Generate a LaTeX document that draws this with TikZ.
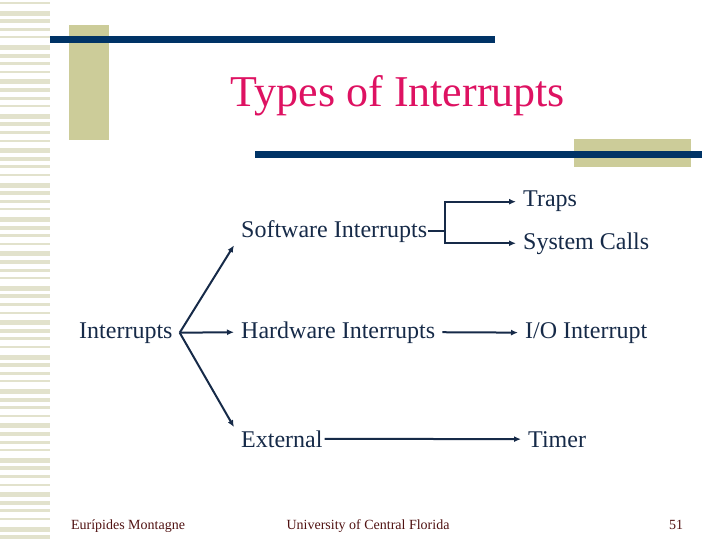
\documentclass[tikz,border=0pt]{standalone}
\usepackage{fontspec}
\setmainfont{Liberation Serif}
\usetikzlibrary{arrows.meta,positioning}
\definecolor{navy}{RGB}{0,51,102}
\definecolor{olive}{RGB}{204,204,153}
\definecolor{stripe}{RGB}{226,226,204}
\definecolor{ink}{RGB}{22,42,72}
\definecolor{rose}{RGB}{222,18,98}
\definecolor{maroon}{RGB}{80,18,18}

\begin{document}
\begin{tikzpicture}[x=1pt,y=-1pt,lbl/.style={anchor=base west,inner xsep=7pt,inner ysep=3pt,text=ink,font=\fontsize{24}{24}\selectfont},foot/.style={anchor=base,text=maroon,font=\fontsize{14}{14}\selectfont},line/.style={draw=ink,line width=2pt},arrow/.style={line,-{Latex[length=7pt,width=6pt]}}]
\useasboundingbox (0,0) rectangle (720,540);
% slide frame
\foreach \i in {0,...,62}{\pgfmathsetmacro\h{2+mod(\i*7,4)}
  \fill[stripe] (0,\i*8.6+2) rectangle (50,\i*8.6+2+\h);}
\fill[olive] (69,25) rectangle (109,140);
\fill[olive] (574,139) rectangle (691,167);
\fill[navy] (50,36) rectangle (495,43);
\fill[navy] (255,151) rectangle (702,158);
\node[anchor=base,text=rose,font=\fontsize{44}{44}\selectfont] (title) at (398,107) {Types of Interrupts};
% tree
\node[lbl] (int) at (72,338) {Interrupts};
\node[lbl] (sw) at (234,237) {Software Interrupts};
\node[lbl] (hw) at (234,338) {Hardware Interrupts};
\node[lbl] (ext) at (234,447) {External};
\node[lbl] (traps) at (516,207) {Traps};
\node[lbl] (sc) at (516,249) {System Calls};
\node[lbl] (io) at (518,338) {I/O Interrupt};
\node[lbl] (timer) at (521,447) {Timer};
\draw[arrow] (int.east) -- (sw.south west); \draw[arrow] (int.east) -- (hw.west); \draw[arrow] (int.east) -- (ext.north west);
\draw[line,shorten <=-6pt] (sw.east) -- ++(11,0) coordinate (fork);
\draw[arrow] (fork) |- (traps.west); \draw[arrow] (fork) |- (sc.west);
\draw[arrow] (hw.east) -- (io.west); \draw[arrow,shorten <=-5pt] (ext.east) -- (timer.west);
% footer
\node[foot] (author) at (128,529) {Eurípides Montagne};
\node[foot] (univ) at (368,529) {University of Central Florida};
\node[foot] (page) at (676,529) {51};
\end{tikzpicture}
\end{document}
